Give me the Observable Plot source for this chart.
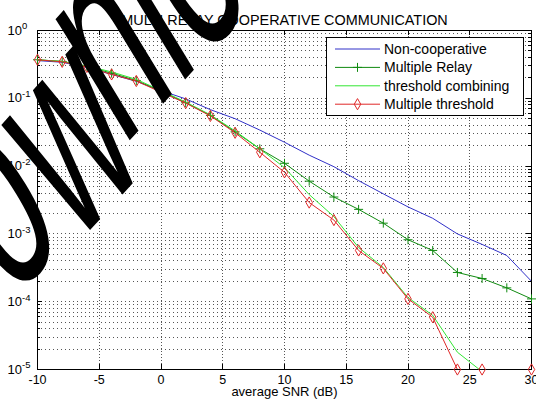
<!DOCTYPE html>
<html><head><meta charset="utf-8">
<script src="https://cdn.jsdelivr.net/npm/d3@7"></script>
<script src="https://cdn.jsdelivr.net/npm/@observablehq/plot@0.6"></script>
<style>body{margin:0;background:#fff}</style>
</head><body><div id="chart"></div>
<script>
// ---- data ----
const snr = [-10,-8,-6,-4,-2,0,2,4,6,8,10,12,14,16,18,20,22,24,26,28,30];
const nonCooperative = [0.36,0.34,0.285,0.225,0.178,0.13,0.098,0.068,0.05,0.034,0.0225,0.0145,0.0098,0.0061,0.0039,0.0025,0.0017,0.001,0.0007,0.00048,0.0002];
const multipleRelay = [0.37,0.35,0.295,0.235,0.183,0.127,0.086,0.056,0.032,0.018,0.011,0.006,0.0035,0.0023,0.00144,0.00082,0.00057,0.00027,0.00022,0.00016,0.00011];
const thresholdCombining = [0.37,0.35,0.3,0.245,0.19,0.13,0.088,0.057,0.033,0.018,0.0095,0.0038,0.0018,0.00063,0.00032,0.000115,0.000063,0.000018,0.0000093,null,null];
const multipleThreshold = [0.37,0.345,0.29,0.225,0.18,0.123,0.085,0.055,0.031,0.016,0.0081,0.0029,0.0016,0.00057,0.00031,0.00011,0.000059,0.00001,0.00001,0.000005,0.00001];
const seriesNames = ["Non-cooperative","Multiple Relay","threshold combining","Multiple threshold"];
const seriesColors = ["#3030c8","#108a10","#33e633","#e02828"];
const seriesSymbols = [null,"plus",null,"diamond"];
const xTicks = [-10,-5,0,5,10,15,20,25,30];
const yMajor = [1e-5,1e-4,1e-3,1e-2,1e-1,1];
const yMinor = [];
for (let k = -5; k < 0; k++) for (let m = 2; m <= 9; m++) yMinor.push(m * Math.pow(10, k));
const titleText = "MULTI RELAY COOPERATIVE COMMUNICATION";
const xLabel = "average SNR (dB)";
const watermark = "Download";

// ---- layout ----
const W = 536, H = 405, mL = 37, mR = 5, mT = 30, mB = 36;
const pw = W - mL - mR, ph = H - mT - mB;
const FONT = "'Liberation Sans', Arial, Helvetica, sans-serif";
const allValues = [nonCooperative, multipleRelay, thresholdCombining, multipleThreshold];
const series = seriesNames.map((name, i) => ({
  name, color: seriesColors[i], symbol: seriesSymbols[i],
  data: snr.map((x, j) => ({x, y: allValues[i][j]})).filter(d => d.y != null)
}));
const markR = {plus: 3.0, diamond: 3.4};
const gridColor = "#555";

const marks = [
  Plot.ruleX(xTicks.slice(1, -1), {stroke: gridColor, strokeDasharray: "1,2", shapeRendering: "crispEdges"}),
  Plot.ruleY([...yMajor.slice(1, -1), ...yMinor], {stroke: gridColor, strokeDasharray: "1,3", shapeRendering: "crispEdges"}),
  Plot.tickX(xTicks, {x: d => d, insetTop: ph - 5, stroke: "black", shapeRendering: "crispEdges"}),
  Plot.tickX(xTicks, {x: d => d, insetBottom: ph - 5, stroke: "black", shapeRendering: "crispEdges"}),
  Plot.tickY(yMajor, {y: d => d, insetRight: pw - 5, stroke: "black", shapeRendering: "crispEdges"}),
  Plot.tickY(yMajor, {y: d => d, insetLeft: pw - 5, stroke: "black", shapeRendering: "crispEdges"}),
  Plot.tickY(yMinor, {y: d => d, insetRight: pw - 3, stroke: "black", shapeRendering: "crispEdges"}),
  Plot.tickY(yMinor, {y: d => d, insetLeft: pw - 3, stroke: "black", shapeRendering: "crispEdges"}),
  Plot.frame({stroke: "black", shapeRendering: "crispEdges"}),
  Plot.axisX({ticks: xTicks, tickSize: 0, tickPadding: 6, tickFormat: d => String(d), label: null, fontSize: 12.5}),
  Plot.axisY({ticks: yMajor, tickSize: 0, tickPadding: 30, textAnchor: "start", tickFormat: d => "10|" + Math.round(Math.log10(d)), label: null, fontSize: 13}),
  Plot.text([titleText], {frameAnchor: "top", dy: -16, fontSize: 14.4}),
  Plot.text([xLabel], {frameAnchor: "bottom", dy: 26, fontSize: 13})
];
for (const s of series) {
  marks.push(Plot.line(s.data, {x: "x", y: "y", stroke: s.color, strokeWidth: 1, clip: true}));
  if (s.symbol) marks.push(Plot.dot(s.data.filter(d => d.y >= 1e-5), {x: "x", y: "y", symbol: s.symbol, r: markR[s.symbol], stroke: s.color, fill: "none", strokeWidth: 1}));
}

const svg = Plot.plot({
  width: W, height: H, marginLeft: mL, marginRight: mR, marginTop: mT, marginBottom: mB,
  style: {fontFamily: FONT, fontSize: "13px", background: "white", color: "black", overflow: "visible"},
  x: {domain: [-10, 30]},
  y: {type: "log", domain: [1e-5, 1]},
  marks
});
document.getElementById("chart").appendChild(svg);
const root = d3.select(svg);

// superscript exponents on y tick labels
root.selectAll('g[aria-label="y-axis tick label"] text').each(function () {
  const t = d3.select(this);
  const [base, exp] = t.text().split("|");
  t.text(null);
  t.append("tspan").text(base);
  t.append("tspan").attr("dy", "-0.55em").attr("font-size", "9.5px").text(exp);
});

// legend (MATLAB style box, top-right inside the axes)
const lgW = 197, lgH = 78;
const lgX = W - mR - 8 - lgW, lgY = mT + 7;
const lg = root.append("g").attr("font-family", FONT).attr("font-size", "14px").attr("text-anchor", "start");
lg.append("rect").attr("x", lgX + 0.5).attr("y", lgY + 0.5).attr("width", lgW).attr("height", lgH)
  .attr("fill", "white").attr("stroke", "black");
const symMap = {plus: d3.symbolPlus, diamond: d3.symbolDiamond};
series.forEach((s, i) => {
  const cy = lgY + 12 + i * 18.4;
  const x1 = lgX + 9, x2 = lgX + 54;
  lg.append("line").attr("x1", x1).attr("x2", x2).attr("y1", cy).attr("y2", cy).attr("stroke", s.color);
  if (s.symbol) {
    const r = markR[s.symbol];
    lg.append("path").attr("d", d3.symbol(symMap[s.symbol], Math.PI * r * r)())
      .attr("transform", `translate(${(x1 + x2) / 2},${cy})`).attr("fill", "none").attr("stroke", s.color);
  }
  lg.append("text").attr("x", lgX + 58).attr("y", cy).attr("dy", "0.35em").text(s.name);
});

// watermark overlay seen on the reference (per-glyph placement, glyph units)
const wmX = [0, 77.2, 135.8, 200, 255.6, 277.8, 333.4, 389];
const wmY = [0, 8, 12, 0, 0, 0, 0, 0];
root.append("text").attr("font-family", FONT).attr("font-size", 100).attr("text-anchor", "start")
  .attr("transform", "matrix(1.0,-1.1,1.4,2.3,-77.2,368)")
  .attr("x", wmX.join(" ")).attr("y", wmY.join(" "))
  .attr("fill", "black")
  .text(watermark);
</script></body></html>
